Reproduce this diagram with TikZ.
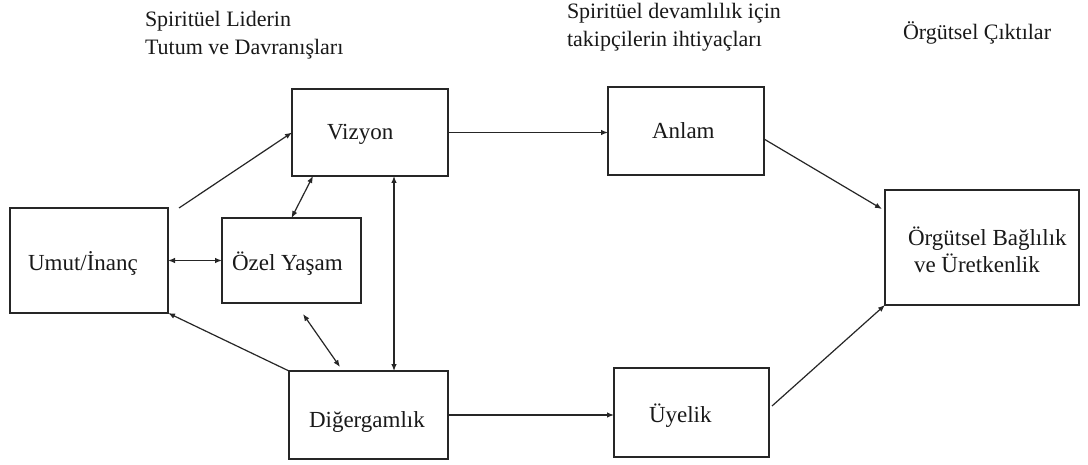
\documentclass[tikz,border=0pt]{standalone}
\usepackage{fontspec}
\setmainfont{Liberation Serif}
\usetikzlibrary{arrows.meta}
\begin{document}
\begin{tikzpicture}[x=1pt,y=-1pt,
  box/.style={draw=black!85, line width=1.4pt, rectangle, inner sep=0pt, outer sep=0pt},
  lbl/.style={inner sep=0pt, outer sep=0pt, anchor=base west, font=\fontsize{23}{28}\selectfont, text=black!90},
  hdr/.style={inner sep=0pt, outer sep=0pt, anchor=base west, align=left, font=\fontsize{22}{28}\selectfont, text=black!90},
  conn/.style={draw=black!85, line width=1.2pt, -{Latex[length=7pt,width=5.5pt]}},
  dbl/.style={draw=black!85, line width=1.2pt, {Latex[length=7pt,width=5.5pt]}-{Latex[length=7pt,width=5.5pt]}}]
\useasboundingbox (0,0) rectangle (1088,465);
\fill[white] (0,0) rectangle (1088,465);
% headers
\node[hdr] (h1) at (145,55) {Spiritüel Liderin\\Tutum ve Davranışları};
\node[hdr] (h2) at (567,47) {Spiritüel devamlılık için\\takipçilerin ihtiyaçları};
\node[hdr] (h3) at (903,40) {Örgütsel Çıktılar};
% boxes
\node[box, minimum width=158pt, minimum height=105pt] (umut) at (89,260.5) {};
\node[box, minimum width=156pt, minimum height=87pt] (viz) at (370,132.5) {};
\node[box, minimum width=139pt, minimum height=85pt] (ozel) at (291.5,260.5) {};
\node[box, minimum width=159pt, minimum height=88pt] (dig) at (368.5,415) {};
\node[box, minimum width=156pt, minimum height=88pt] (anlam) at (686,131) {};
\node[box, minimum width=155pt, minimum height=89pt] (uye) at (691.5,412.5) {};
\node[box, minimum width=194pt, minimum height=115pt] (org) at (982,247.5) {};
% labels
\node[lbl] (tumut) at (28,271) {Umut/İnanç};
\node[lbl] (tviz) at (327,140) {Vizyon};
\node[lbl] (tozel) at (232,271) {Özel Yaşam};
\node[lbl] (tdig) at (309,427) {Diğergamlık};
\node[lbl] (tanlam) at (652,139) {Anlam};
\node[lbl] (tuye) at (649,422) {Üyelik};
\node[lbl, align=left] (torg) at (908,273) {Örgütsel Bağlılık\\\hspace*{6pt}ve Üretkenlik};
% connectors
\coordinate (u1) at (179,208);
\draw[conn] (u1) -- (viz.west);
\draw[dbl] (umut.east) -- (ozel.west);
\draw[dbl] ([xshift=21pt]viz.south west) -- (ozel.north);
\draw[dbl] ([xshift=11.5pt,yshift=-11pt]ozel.south) -- ([xshift=-28.5pt,yshift=4pt]dig.north);
\draw[conn] (dig.north west) -- (umut.south east);
\draw[dbl] ([xshift=24pt]viz.south) -- ([xshift=25.5pt]dig.north);
\draw[conn] (viz.east) -- (viz.east -| anlam.west);
\draw[conn] (dig.east) -- (dig.east -| uye.west);
\draw[conn] ([yshift=-8pt]anlam.east) -- ([xshift=-3pt,yshift=-19pt]org.north west);
\draw[conn] ([xshift=3pt,yshift=6.5pt]uye.east) -- (org.south west);
\end{tikzpicture}
\end{document}
